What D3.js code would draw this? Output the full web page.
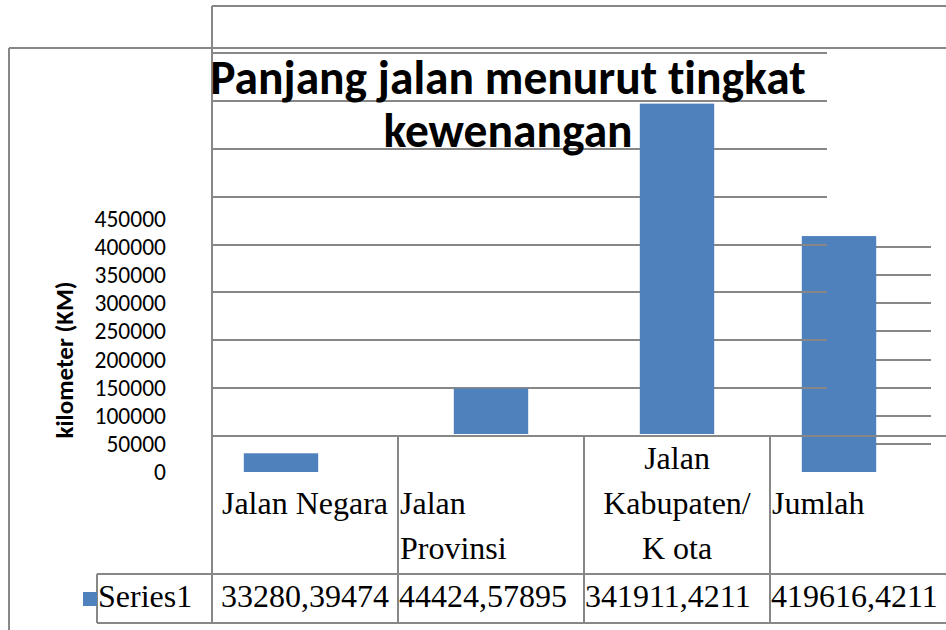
<!DOCTYPE html>
<html lang="id">
<head>
<meta charset="utf-8">
<title>Panjang jalan menurut tingkat kewenangan</title>
<script src="https://cdnjs.cloudflare.com/ajax/libs/d3/7.8.5/d3.min.js"></script>
<style>
  body { margin: 0; background: #fff; }
  svg { display: block; }
  .sans { font-family: Calibri, Carlito, Lato, sans-serif; fill: #000; font-variant-ligatures: none; }
  .serif { font-family: "Palatino Linotype", "Book Antiqua", Palatino, "Liberation Serif", serif; font-size: 32px; fill: #000; }
  .rule { stroke: #878787; stroke-width: 2; fill: none; shape-rendering: crispEdges; }
</style>
</head>
<body>
<svg id="chart" width="946" height="630"></svg>
<script>
// data
const categories = ["Jalan Negara", "Jalan Provinsi", "Jalan Kabupaten/Kota", "Jumlah"];
const categoryLines = [["Jalan Negara"], ["Jalan", "Provinsi"], ["Jalan", "Kabupaten/", "K ota"], ["Jumlah"]];
const values = [33280.39474, 44424.57895, 341911.4211, 419616.4211];
const valueLabels = ["33280,39474", "44424,57895", "341911,4211", "419616,4211"];
const seriesName = "Series1";
const yTicks = [0, 50000, 100000, 150000, 200000, 250000, 300000, 350000, 400000, 450000];
const gridTicks = [0, 50000, 100000, 150000, 200000, 250000, 300000, 350000, 400000];
const titleLines = ["Panjang jalan menurut tingkat", "kewenangan"];
const yTitle = "kilometer (KM)";
// the picture draws two of the bars against the labelled axis and two against the gridlines
const onLabelAxis = ["Jalan Negara", "Jumlah"];

const labelAlign = ["middle", "start", "middle", "start"];
const valueAlign = ["middle", "start", "start", "start"];
const barColor = "#4F81BD";

const svg = d3.select("#chart");
svg.append("rect").attr("width", 946).attr("height", 630).attr("fill", "#fff");

const rows = categories.map((c, i) => ({ name: c, value: values[i], lines: categoryLines[i], label: valueLabels[i], i }));

// scales
const x = d3.scaleBand().domain(categories).range([212, 956]);
const xShift = d3.scaleBand().domain(categories).range([188, 932]);
const barW = x.bandwidth() * 0.4;
const yAxisScale = d3.scaleLinear().domain([0, 450000]).range([472, 219]);
const gridScale = d3.scaleLinear().domain([0, 400000]).range([436, 53]);
const barScale = d3.scaleLinear().domain([0, 400000]).range([431, 48]);
const tableTop = gridScale(0);
const rowTop = 574, rowBottom = 623;

function hline(g, y, x1, x2) {
  g.append("line").attr("class", "rule").attr("x1", x1).attr("x2", x2).attr("y1", y).attr("y2", y);
}
function vline(g, xPos, y1, y2) {
  g.append("line").attr("class", "rule").attr("x1", xPos).attr("x2", xPos).attr("y1", y1).attr("y2", y2);
}

// frames
const frame = svg.append("g");
hline(frame, 6, 212, 946);
hline(frame, 48, 9, 946);
vline(frame, 9, 48, 630);

// short gridlines on the right, behind the Jumlah bar
svg.append("g").selectAll("line")
  .data(yTicks.filter(t => t > 0 && t < 450000))
  .join("line")
  .attr("class", "rule")
  .attr("x1", 840).attr("x2", 931)
  .attr("y1", d => yAxisScale(d)).attr("y2", d => yAxisScale(d));

// bars on the labelled axis
svg.append("g").selectAll("rect")
  .data(rows.filter(d => onLabelAxis.includes(d.name)))
  .join("rect")
  .attr("x", d => xShift(d.name) + (xShift.bandwidth() - barW) / 2)
  .attr("width", barW)
  .attr("y", d => yAxisScale(d.value))
  .attr("height", d => yAxisScale(0) - yAxisScale(d.value))
  .attr("fill", barColor);

// main gridlines and table lines
const grid = svg.append("g");
grid.selectAll("line")
  .data(gridTicks.filter(t => t > 0))
  .join("line")
  .attr("class", "rule")
  .attr("x1", 212).attr("x2", 827)
  .attr("y1", d => gridScale(d)).attr("y2", d => gridScale(d));
hline(grid, tableTop, 212, 946);
hline(grid, rowTop, 97, 946);
hline(grid, rowBottom, 97, 946);
vline(grid, 212, 6, rowBottom);
categories.slice(1).forEach(c => vline(grid, x(c), tableTop, rowBottom));

// legend key sits under the Series1 cell border
svg.append("rect").attr("x", 83).attr("y", 592).attr("width", 14).attr("height", 14).attr("fill", barColor);
vline(grid, 97, rowTop, rowBottom);

// bars on the gridlines
svg.append("g").selectAll("rect")
  .data(rows.filter(d => !onLabelAxis.includes(d.name)))
  .join("rect")
  .attr("x", d => x(d.name) + (x.bandwidth() - barW) / 2)
  .attr("width", barW)
  .attr("y", d => barScale(d.value))
  .attr("height", d => tableTop - 2 - barScale(d.value))
  .attr("fill", barColor);

// y axis labels
const yAxis = svg.append("g")
  .attr("transform", "translate(170,0)")
  .call(d3.axisLeft(yAxisScale).tickValues(yTicks).tickSize(0).tickPadding(4).tickFormat(d3.format("d")));
yAxis.select(".domain").remove();
yAxis.attr("font-family", null).attr("font-size", null);
yAxis.selectAll("text")
  .attr("class", "sans")
  .style("font-size", "23.5px")
  .attr("fill", "#000");

svg.append("text")
  .attr("class", "sans")
  .attr("transform", "translate(73,360) rotate(-90)")
  .attr("text-anchor", "middle")
  .style("font-size", "25px")
  .style("font-weight", "bold")
  .text(yTitle);

// title
svg.append("g").selectAll("text")
  .data(titleLines)
  .join("text")
  .attr("class", "sans")
  .attr("x", 508)
  .attr("y", (d, i) => 94 + i * 53)
  .attr("text-anchor", "middle")
  .style("font-size", "47.5px")
  .style("font-weight", "bold")
  .text(d => d);

// category labels in the table header
const lineH = 45;
const labels = svg.append("g");
rows.forEach(d => {
  const first = 514 - lineH * Math.max(0, d.lines.length - 2);
  const anchor = labelAlign[d.i];
  const tx = anchor === "middle" ? x(d.name) + x.bandwidth() / 2 : x(d.name) + 2;
  d.lines.forEach((line, k) => {
    labels.append("text")
      .attr("class", "serif")
      .attr("x", tx)
      .attr("y", first + k * lineH)
      .attr("text-anchor", anchor)
      .text(line);
  });
});

// data row
const row = svg.append("g");
row.append("text").attr("class", "serif").attr("x", 98).attr("y", 607).text(seriesName);
row.selectAll("text.val")
  .data(rows)
  .join("text")
  .attr("class", "serif val")
  .attr("x", d => valueAlign[d.i] === "middle" ? x(d.name) + x.bandwidth() / 2 : x(d.name) + 1)
  .attr("y", 607)
  .attr("text-anchor", d => valueAlign[d.i])
  .text(d => d.label);
</script>
</body>
</html>
